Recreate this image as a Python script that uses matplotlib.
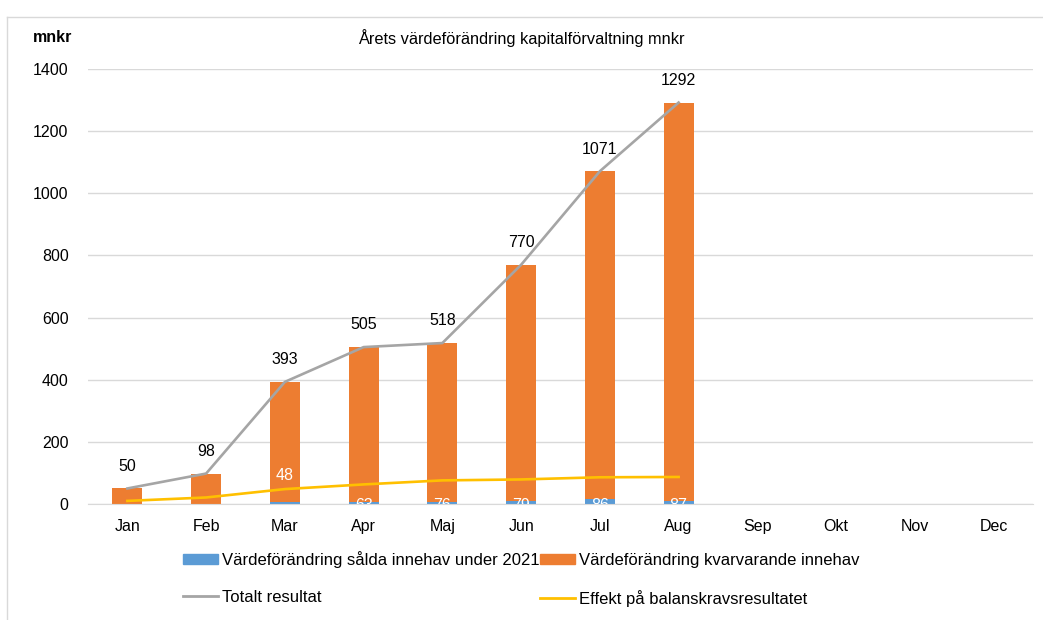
import numpy as np
import matplotlib
matplotlib.use('Agg')
import matplotlib.pyplot as plt
from matplotlib.lines import Line2D

plt.rcParams['font.family'] = ['Liberation Sans', 'DejaVu Sans']

months = ['Jan', 'Feb', 'Mar', 'Apr', 'Maj', 'Jun', 'Jul', 'Aug', 'Sep', 'Okt', 'Nov', 'Dec']
# data for Jan-Aug
salda = [0, 0, 7, 8, 8, 9, 16, 9]
totalt = [50, 98, 393, 505, 518, 770, 1071, 1292]
effekt = [10, 21, 48, 63, 76, 79, 86, 87]
kvar = [t - s for t, s in zip(totalt, salda)]

blue = '#5B9BD5'
orange = '#ED7D31'
grey = '#A5A5A5'
yellow = '#FFC000'

fig = plt.figure(figsize=(10.43, 6.2), dpi=100)
ax = fig.add_axes([88 / 1043, 1 - 504 / 620, (1033 - 88) / 1043, (504 - 69) / 620])

x = np.arange(len(months))
n = len(totalt)
w = 0.38
ax.bar(x[:n], salda, w, color=blue, zorder=2)
ax.bar(x[:n], kvar, w, bottom=salda, color=orange, zorder=2)
ax.plot(x[:n], totalt, color=grey, lw=1.9, zorder=3)
ax.plot(x[:n], effekt, color=yellow, lw=1.9, zorder=3)

# labels for total
for i, v in enumerate(totalt):
    ax.annotate(str(v), (x[i], v), xytext=(0, 16), textcoords='offset points',
                ha='center', va='center', fontsize=11.5, color='#000000')

# white labels for effekt (Excel places them low in the bars, Jan/Feb hidden)
for i, v in enumerate(effekt):
    if i < 2:
        continue
    ypos = 93 if i == 2 else -4
    ax.text(x[i], ypos, str(v), ha='center', va='center', fontsize=11.5,
            color='white', zorder=4, clip_on=True)

ax.set_xlim(-0.5, 11.5)
ax.set_ylim(0, 1400)
ax.set_yticks(range(0, 1401, 200))
ax.set_xticks(x)
ax.set_xticklabels(months)
ax.tick_params(axis='both', length=0, labelsize=11.5, colors='#000000')
ax.tick_params(axis='y', pad=14)
ax.tick_params(axis='x', pad=11)
ax.grid(axis='y', color='#D9D9D9', lw=1, zorder=0)
for s in ['top', 'right', 'left']:
    ax.spines[s].set_visible(False)
ax.spines['bottom'].set_color('#D9D9D9')

fig.text(33 / 1043, 1 - 38 / 620, 'mnkr', fontsize=11.5, fontweight='bold', va='center', ha='left')
fig.text(521 / 1043, 1 - 38 / 620, 'Årets värdeförändring kapitalförvaltning mnkr',
         fontsize=11.8, va='center', ha='center')

handles = [
    plt.Rectangle((0, 0), 1, 1, color=blue),
    Line2D([], [], color=grey, lw=2),
    plt.Rectangle((0, 0), 1, 1, color=orange),
    Line2D([], [], color=yellow, lw=2),
]
labels = ['Värdeförändring sålda innehav under 2021', 'Totalt resultat',
          'Värdeförändring kvarvarande innehav', 'Effekt på balanskravsresultatet']
fig.legend(handles, labels, ncol=2, loc='upper left', bbox_to_anchor=(183 / 1043, 1 - 551 / 620),
           frameon=False, fontsize=12, handlelength=2.1, handleheight=0.6, handletextpad=0.25,
           columnspacing=0.0, labelspacing=1.3, borderpad=0, borderaxespad=0)

# light frame of the chart area (left and top edges visible)
fig.add_artist(Line2D([7 / 1043, 7 / 1043], [0, 1 - 17 / 620], color='#D9D9D9', lw=1))
fig.add_artist(Line2D([7 / 1043, 1], [1 - 17 / 620, 1 - 17 / 620], color='#D9D9D9', lw=1))

fig.savefig('out.png', dpi=100, facecolor='white')
